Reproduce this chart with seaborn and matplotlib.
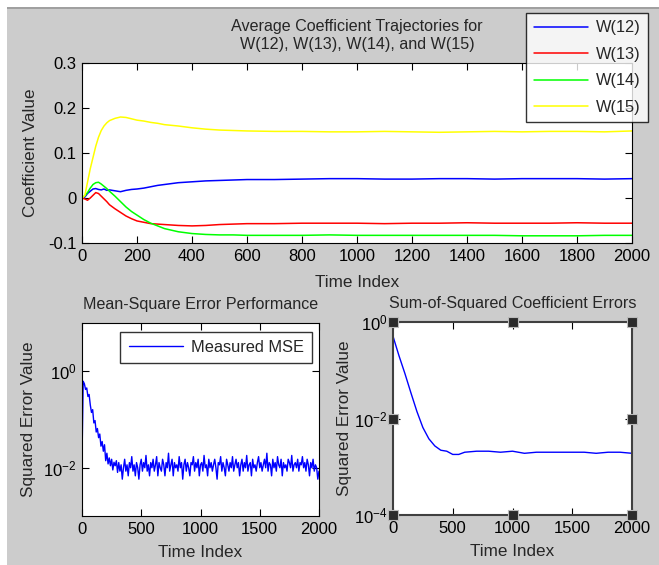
import numpy as np
import pandas as pd
import matplotlib
matplotlib.use("Agg")
import matplotlib.pyplot as plt
from matplotlib.ticker import FixedLocator, NullLocator, FuncFormatter
from matplotlib.patches import Rectangle
import seaborn as sns

# ---------------- data ----------------
t_coef = [0, 10, 20, 30, 40, 50, 60, 70, 80, 90, 100, 120, 140, 160, 180, 200,
          225, 250, 275, 300, 350, 400, 450, 500, 550, 600, 700, 800, 900, 1000,
          1100, 1200, 1300, 1400, 1500, 1600, 1700, 1800, 1900, 2000]
w12 = [0, 0.002, 0.010, 0.015, 0.020, 0.021, 0.019, 0.018, 0.020, 0.017, 0.018,
       0.016, 0.014, 0.017, 0.019, 0.020, 0.022, 0.025, 0.028, 0.030, 0.034, 0.036,
       0.038, 0.039, 0.040, 0.041, 0.041, 0.042, 0.043, 0.043, 0.042, 0.042, 0.043,
       0.043, 0.042, 0.043, 0.043, 0.043, 0.042, 0.043]
w13 = [0, -0.002, -0.005, 0.000, 0.006, 0.012, 0.010, 0.004, -0.002, -0.008,
       -0.015, -0.024, -0.032, -0.040, -0.046, -0.051, -0.054, -0.057, -0.058,
       -0.059, -0.061, -0.062, -0.061, -0.059, -0.058, -0.057, -0.057, -0.056,
       -0.056, -0.056, -0.057, -0.056, -0.056, -0.055, -0.056, -0.056, -0.056,
       -0.055, -0.056, -0.056]
w14 = [0, 0.005, 0.012, 0.022, 0.030, 0.034, 0.035, 0.031, 0.026, 0.021, 0.015,
       0.004, -0.008, -0.020, -0.030, -0.038, -0.048, -0.056, -0.062, -0.068,
       -0.075, -0.079, -0.081, -0.082, -0.082, -0.083, -0.083, -0.083, -0.082,
       -0.083, -0.083, -0.083, -0.083, -0.083, -0.083, -0.084, -0.084, -0.084,
       -0.083, -0.083]
w15 = [0, 0.005, 0.035, 0.065, 0.090, 0.115, 0.135, 0.150, 0.160, 0.167, 0.172,
       0.177, 0.180, 0.179, 0.176, 0.173, 0.171, 0.168, 0.166, 0.163, 0.160,
       0.156, 0.153, 0.151, 0.150, 0.149, 0.148, 0.148, 0.147, 0.147, 0.148,
       0.147, 0.146, 0.147, 0.148, 0.147, 0.148, 0.148, 0.147, 0.149]
coef_labels = ["W(12)", "W(13)", "W(14)", "W(15)"]
coef_colors = ["#0000ff", "#ff0000", "#00ff00", "#ffff00"]

t_mse = list(range(0, 2001, 10))
mse = [0.015, 0.62, 0.55, 0.42, 0.45, 0.30, 0.33, 0.20, 0.14, 0.16,
       0.085, 0.095, 0.055, 0.065, 0.042, 0.050, 0.028, 0.035, 0.022, 0.030,
       0.014, 0.020, 0.012, 0.016, 0.011, 0.015, 0.009, 0.013, 0.011, 0.014,
       0.008,
       0.0128, 0.0085, 0.0115, 0.0058, 0.010, 0.015, 0.0085, 0.0115, 0.0068, 0.0128,
       0.010, 0.017, 0.0085, 0.0115, 0.0068, 0.0128, 0.010, 0.0058, 0.0115, 0.015,
       0.0085, 0.0128, 0.010, 0.018, 0.0085, 0.0115, 0.0068, 0.0128, 0.010, 0.015,
       0.0085, 0.0115, 0.017, 0.0068, 0.0128, 0.010, 0.0085, 0.015, 0.0115, 0.0068,
       0.0128, 0.010, 0.020, 0.0085, 0.0115, 0.015, 0.0068, 0.0128, 0.010, 0.0115,
       0.0085, 0.017, 0.010, 0.0128, 0.0058, 0.0115, 0.015, 0.0085, 0.0128, 0.010,
       0.0068, 0.0128, 0.0115, 0.017, 0.0085, 0.0128, 0.010, 0.015, 0.0068, 0.0115,
       0.0128, 0.0085, 0.018, 0.010, 0.0115, 0.0068, 0.015, 0.010, 0.0128, 0.0085,
       0.0115, 0.015, 0.010, 0.0058, 0.0128, 0.0115, 0.017, 0.0085, 0.0128, 0.010,
       0.0068, 0.015, 0.0115, 0.0085, 0.0128, 0.010, 0.017, 0.0085, 0.0115, 0.015,
       0.010, 0.0128, 0.0068, 0.0115, 0.015, 0.0085, 0.0128, 0.010, 0.018, 0.0085,
       0.0115, 0.0128, 0.0068, 0.015, 0.010, 0.0115, 0.0085, 0.0128, 0.017, 0.010,
       0.0128, 0.0085, 0.0115, 0.015, 0.010, 0.020, 0.0085, 0.0128, 0.0115, 0.0068,
       0.015, 0.010, 0.0128, 0.0085, 0.017, 0.0115, 0.010, 0.015, 0.0068, 0.0128,
       0.010, 0.0115, 0.0085, 0.015, 0.0128, 0.010, 0.018, 0.0085, 0.0115, 0.0128,
       0.010, 0.015, 0.0085, 0.0128, 0.0115, 0.017, 0.010, 0.0128, 0.0085, 0.015,
       0.0115, 0.0068, 0.0128, 0.010, 0.015, 0.0085, 0.0115, 0.010, 0.0058, 0.0085]

t_sse = [1, 10, 50, 100, 150, 200, 250, 300, 350, 400, 450, 500, 550, 600, 700,
         800, 900, 1000, 1100, 1200, 1300, 1400, 1500, 1600, 1700, 1800, 1900, 2000]
sse = [0.50, 0.42, 0.20, 0.085, 0.034, 0.014, 0.0065, 0.0038, 0.0027, 0.0022,
       0.0021, 0.0018, 0.0018, 0.0020, 0.0021, 0.0021, 0.0020, 0.0021, 0.0019,
       0.0020, 0.0020, 0.0020, 0.0020, 0.0020, 0.0019, 0.0020, 0.0020, 0.0019]

# ---------------- style ----------------
sns.set_style("white")
plt.rcParams["font.family"] = ["Liberation Sans", "DejaVu Sans"]
plt.rcParams["font.size"] = 12
plt.rcParams["axes.unicode_minus"] = False
plt.rcParams["mathtext.default"] = "regular"

TICK_FS = 12
LABEL_FS = 12.3
TITLE_FS = 11.6
LEG_FS = 11.8

W, H = 659, 565
fig = plt.figure(figsize=(W / 100, H / 100), dpi=100, facecolor="white")
GRAY = "#cccccc"
fig.patches.append(Rectangle((7 / W, 0), 1 - 7 / W, 1 - 9 / H, transform=fig.transFigure,
                             facecolor=GRAY, edgecolor="none", zorder=-10))
fig.patches.append(Rectangle((7 / W, 1 - 8.5 / H), 1 - 7 / W, 1.5 / H, transform=fig.transFigure,
                             facecolor="#a0a0a0", edgecolor="none", zorder=-9))


def fx(px):
    return px / W


def fy(py):
    return 1 - py / H


def style_axes(ax, spine_color="black", spine_lw=0.8):
    ax.set_facecolor("white")
    for s in ax.spines.values():
        s.set_visible(True)
        s.set_color(spine_color)
        s.set_linewidth(spine_lw)
    ax.tick_params(direction="in", length=5, width=0.8, top=True, right=True,
                   bottom=True, left=True, labelsize=TICK_FS, colors="black", pad=4)


# ---------------- top axes ----------------
ax1 = fig.add_axes([fx(82), fy(243), fx(632) - fx(82), (243 - 63) / H])
style_axes(ax1)
df_coef = pd.DataFrame({"t": t_coef * 4,
                        "value": w12 + w13 + w14 + w15,
                        "series": sum([[lab] * len(t_coef) for lab in coef_labels], [])})
sns.lineplot(data=df_coef, x="t", y="value", hue="series", palette=coef_colors,
             hue_order=coef_labels, linewidth=1.1, ax=ax1, legend=False)
ax1.set_xlim(0, 2000)
ax1.set_ylim(-0.1, 0.3)
ax1.xaxis.set_major_locator(FixedLocator(list(range(0, 2001, 200))))
ax1.yaxis.set_major_locator(FixedLocator([-0.1, 0, 0.1, 0.2, 0.3]))
ax1.yaxis.set_major_formatter(FuncFormatter(lambda v, p: "%g" % round(v, 2)))
ax1.set_xlabel("Time Index", fontsize=LABEL_FS, labelpad=8)
ax1.set_ylabel("Coefficient Value", fontsize=LABEL_FS, labelpad=7)
ax1.set_title("Average Coefficient Trajectories for\nW(12), W(13), W(14), and W(15)",
              fontsize=TITLE_FS, pad=10, linespacing=1.3)
handles = [plt.Line2D([], [], color=c, lw=1.1) for c in coef_colors]
leg = fig.legend(handles, coef_labels, loc="upper right",
                 bbox_to_anchor=(fx(648), fy(13)), bbox_transform=fig.transFigure,
                 borderaxespad=0, frameon=True, fancybox=False, fontsize=LEG_FS,
                 handlelength=3.3, labelspacing=0.7, borderpad=0.45, handletextpad=0.5)
leg.get_frame().set_edgecolor("black")
leg.get_frame().set_linewidth(1.0)
leg.get_frame().set_facecolor("white")

# ---------------- bottom-left ----------------
ax2 = fig.add_axes([fx(82), fy(516), fx(319) - fx(82), (516 - 323) / H])
style_axes(ax2)
df_mse = pd.DataFrame({"t": t_mse, "mse": mse})
sns.lineplot(data=df_mse, x="t", y="mse", color="#0000ff", linewidth=1.0, ax=ax2,
             label="Measured MSE")
ax2.set_yscale("log")
ax2.set_xlim(0, 2000)
ax2.set_ylim(1e-3, 1e1)
ax2.xaxis.set_major_locator(FixedLocator([0, 500, 1000, 1500, 2000]))
ax2.yaxis.set_major_locator(FixedLocator([1e-2, 1e0]))
ax2.yaxis.set_minor_locator(NullLocator())
ax2.set_xlabel("Time Index", fontsize=LABEL_FS, labelpad=6)
ax2.set_ylabel("Squared Error Value", fontsize=LABEL_FS, labelpad=5)
ax2.set_title("Mean-Square Error Performance", fontsize=TITLE_FS, pad=10)
leg2 = ax2.legend(loc="upper right", bbox_to_anchor=(fx(312), fy(332)),
                  bbox_transform=fig.transFigure, borderaxespad=0, frameon=True,
                  fancybox=False, fontsize=LEG_FS, handlelength=3.3, borderpad=0.5,
                  handletextpad=0.5)
leg2.get_frame().set_edgecolor("black")
leg2.get_frame().set_linewidth(1.0)

# ---------------- bottom-right ----------------
ax3 = fig.add_axes([fx(393), fy(515), fx(632) - fx(393), (515 - 322) / H])
style_axes(ax3, spine_color="#404040", spine_lw=1.5)
df_sse = pd.DataFrame({"t": t_sse, "sse": sse})
sns.lineplot(data=df_sse, x="t", y="sse", color="#0000ff", linewidth=1.0, ax=ax3)
ax3.set_yscale("log")
ax3.set_xlim(0, 2000)
ax3.set_ylim(1e-4, 1e0)
ax3.xaxis.set_major_locator(FixedLocator([0, 500, 1000, 1500, 2000]))
ax3.yaxis.set_major_locator(FixedLocator([1e-4, 1e-2, 1e0]))
ax3.yaxis.set_minor_locator(NullLocator())
ax3.set_xlabel("Time Index", fontsize=LABEL_FS, labelpad=6)
ax3.set_ylabel("Squared Error Value", fontsize=LABEL_FS, labelpad=1)
ax3.set_title("Sum-of-Squared Coefficient Errors", fontsize=TITLE_FS, pad=10)
# selection handles (MATLAB edit mode)
hx = [0, 0.5, 1, 0, 1, 0, 0.5, 1]
hy = [0, 0, 0, 0.5, 0.5, 1, 1, 1]
ax3.plot(hx, hy, linestyle="none", marker="s", markersize=6.5,
         markerfacecolor="#2b2b2b", markeredgecolor="#bbbbbb", markeredgewidth=0.8,
         transform=ax3.transAxes, clip_on=False, zorder=5)

fig.savefig("out.png", dpi=100, facecolor=fig.get_facecolor())
